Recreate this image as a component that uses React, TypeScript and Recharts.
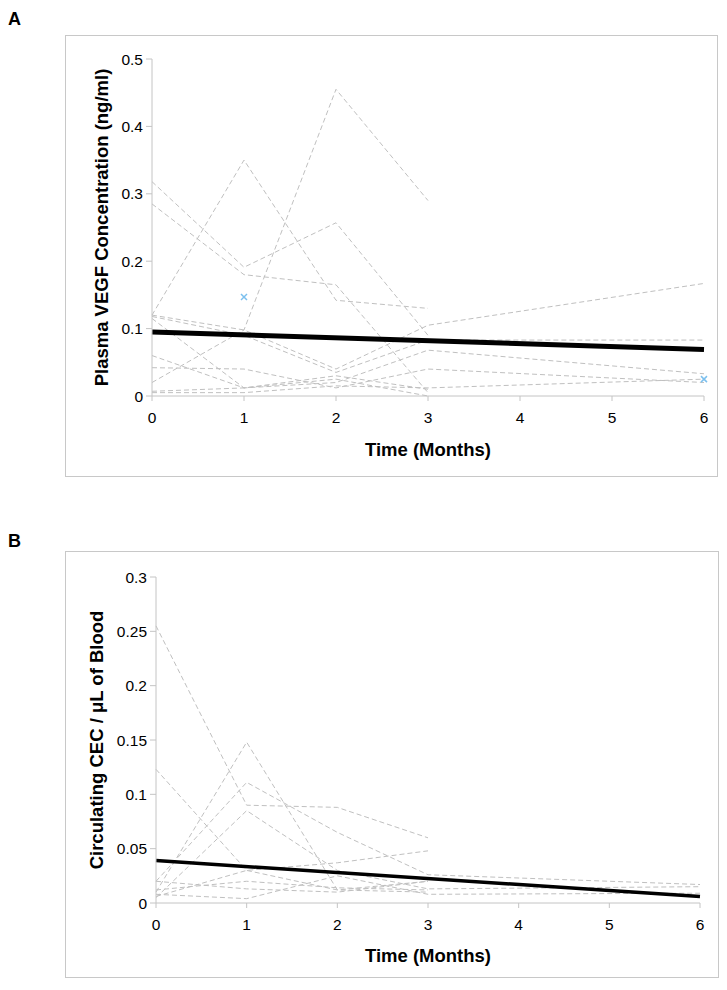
import React from 'react';
import { LineChart, Line, XAxis, YAxis, Label } from 'recharts';

// ---------- data ----------
const months = [0, 1, 2, 3, 6];
const monthTicks = [0, 1, 2, 3, 4, 5, 6];
const vegfTicks = [0, 0.1, 0.2, 0.3, 0.4, 0.5];
const cecTicks = [0, 0.05, 0.1, 0.15, 0.2, 0.25, 0.3];

// Panel A: plasma VEGF per patient (months 0,1,2,3,6)
const vegfP1 = [0.12, 0.35, 0.142, 0.13, null];
const vegfP2 = [0.02, 0.098, 0.455, 0.29, null];
const vegfP3 = [0.318, 0.191, 0.257, 0.09, null];
const vegfP4 = [0.285, 0.18, 0.165, 0.005, null];
const vegfP5 = [0.12, 0.098, 0.04, 0.105, 0.167];
const vegfP6 = [0.118, 0.09, 0.035, 0.083, 0.083];
const vegfP7 = [0.06, 0.012, 0.02, 0.068, 0.033];
const vegfP8 = [0.042, 0.04, 0.012, 0.04, 0.02];
const vegfP9 = [0.005, 0.005, 0.015, 0.012, 0.025];
const vegfP10 = [0.007, 0.012, 0.025, 0.0, null];
const vegfP11 = [0.115, 0.012, 0.03, 0.01, null];
const vegfMarked = [null, 0.147, null, null, 0.025];
const vegfTrend = [0.095, null, null, null, 0.069];

// Panel B: circulating CEC per patient
const cecP1 = [0.255, 0.09, 0.088, 0.06, null];
const cecP2 = [0.123, 0.03, 0.012, 0.02, null];
const cecP3 = [0.01, 0.148, 0.012, 0.01, null];
const cecP4 = [0.02, 0.111, 0.065, 0.026, 0.017];
const cecP5 = [0.005, 0.085, 0.03, 0.013, 0.015];
const cecP6 = [0.006, 0.03, 0.037, 0.048, null];
const cecP7 = [0.008, 0.004, 0.025, 0.008, 0.009];
const cecP8 = [0.012, 0.02, 0.014, 0.012, null];
const cecP9 = [0.02, 0.013, 0.01, 0.02, null];
const cecTrend = [0.039, null, null, null, 0.006];

const vegfPatients = [vegfP1, vegfP2, vegfP3, vegfP4, vegfP5, vegfP6, vegfP7, vegfP8, vegfP9, vegfP10, vegfP11];
const cecPatients = [cecP1, cecP2, cecP3, cecP4, cecP5, cecP6, cecP7, cecP8, cecP9];

function buildRows(patients: (number | null)[][], trend: (number | null)[], marked?: (number | null)[]) {
  return months.map((m, i) => {
    const row: any = { month: m, trend: trend[i] };
    patients.forEach((p, k) => {
      row['p' + k] = p[i];
    });
    if (marked) row.marked = marked[i];
    return row;
  });
}

const vegfRows = buildRows(vegfPatients, vegfTrend, vegfMarked);
const cecRows = buildRows(cecPatients, cecTrend);

// ---------- styles ----------
const FONT = '"Liberation Sans", Arial, Helvetica, sans-serif';
const AXIS = '#c4c4c4';
const DASH = '#c0c0c0';
const TICK_FS = 15.5;
const TITLE_FS = 18.5;

const CrossDot = (props: any) => {
  const { cx, cy, index, value } = props;
  if (value == null || cx == null || cy == null) return <g key={'m' + index} />;
  const s = 3;
  return (
    <g key={'m' + index}>
      <line x1={cx - s} y1={cy - s} x2={cx + s} y2={cy + s} stroke="#7cc0ee" strokeWidth={1.5} />
      <line x1={cx - s} y1={cy + s} x2={cx + s} y2={cy - s} stroke="#7cc0ee" strokeWidth={1.5} />
    </g>
  );
};

type PanelProps = {
  rows: any[];
  count: number;
  width: number;
  height: number;
  margin: { top: number; right: number; left: number; bottom: number };
  yWidth: number;
  xHeight: number;
  yMax: number;
  yTicks: number[];
  yTitle: string;
  yTitleX: number;
  xTitleDy: number;
  trendWidth: number;
  marked?: boolean;
};

function Panel(p: PanelProps) {
  const keys = Array.from({ length: p.count }, (_, k) => 'p' + k);
  return (
    <LineChart width={p.width} height={p.height} data={p.rows} margin={p.margin}>
      <XAxis
        dataKey="month"
        type="number"
        domain={[0, 6]}
        ticks={monthTicks}
        interval={0}
        height={p.xHeight}
        tickSize={5}
        tickMargin={11}
        axisLine={{ stroke: AXIS }}
        tickLine={{ stroke: AXIS }}
        tick={{ fill: '#000', fontSize: TICK_FS, fontFamily: FONT }}
      >
        <Label
          content={(lp: any) => {
            const vb = lp.viewBox;
            return (
              <text
                x={vb.x + vb.width / 2}
                y={vb.y + p.xTitleDy}
                textAnchor="middle"
                fontFamily={FONT}
                fontWeight="bold"
                fontSize={TITLE_FS}
                fill="#000"
              >
                Time (Months)
              </text>
            );
          }}
        />
      </XAxis>
      <XAxis xAxisId="top" orientation="top" type="number" domain={[0, 6]} height={0} tick={false} tickLine={false} axisLine={{ stroke: AXIS }} />
      <YAxis
        type="number"
        domain={[0, p.yMax]}
        ticks={p.yTicks}
        interval={0}
        width={p.yWidth}
        tickSize={6}
        tickMargin={3}
        axisLine={{ stroke: AXIS }}
        tickLine={{ stroke: AXIS }}
        tick={{ fill: '#000', fontSize: TICK_FS, fontFamily: FONT }}
      >
        <Label
          content={(lp: any) => {
            const vb = lp.viewBox;
            const cx = vb.x + p.yTitleX;
            const cy = vb.y + vb.height / 2;
            return (
              <text
                x={cx}
                y={cy}
                transform={`rotate(-90 ${cx} ${cy})`}
                textAnchor="middle"
                dominantBaseline="central"
                fontFamily={FONT}
                fontWeight="bold"
                fontSize={TITLE_FS}
                fill="#000"
              >
                {p.yTitle}
              </text>
            );
          }}
        />
      </YAxis>
      <YAxis yAxisId="right" orientation="right" type="number" domain={[0, p.yMax]} width={0} tick={false} tickLine={false} axisLine={{ stroke: AXIS }} />
      {keys.map((k) => (
        <Line
          key={k}
          dataKey={k}
          stroke={DASH}
          strokeWidth={1}
          strokeDasharray="5 3"
          dot={false}
          activeDot={false}
          isAnimationActive={false}
          type="linear"
        />
      ))}
      {p.marked && (
        <Line
          dataKey="marked"
          stroke="none"
          dot={CrossDot}
          activeDot={false}
          isAnimationActive={false}
        />
      )}
      <Line
        dataKey="trend"
        stroke="#000"
        strokeWidth={p.trendWidth}
        dot={false}
        activeDot={false}
        connectNulls
        isAnimationActive={false}
        type="linear"
      />
    </LineChart>
  );
}

export default function App() {
  const box = { position: 'absolute' as const, border: '1px solid #c8c8c8', boxSizing: 'border-box' as const };
  const letter = { position: 'absolute' as const, fontFamily: FONT, fontWeight: 'bold' as const, fontSize: 18, lineHeight: '18px' };
  return (
    <div style={{ position: 'absolute', left: 0, top: 0, width: 727, height: 990, background: '#fff' }}>
      <div style={{ ...letter, left: 8, top: 10 }}>A</div>
      <div style={{ ...letter, left: 8, top: 532 }}>B</div>
      <div style={{ ...box, left: 65, top: 35, width: 653, height: 442 }} />
      <div style={{ ...box, left: 65, top: 551, width: 654, height: 427 }} />
      <div style={{ position: 'absolute', left: 65, top: 35 }}>
        <Panel
          rows={vegfRows}
          count={vegfPatients.length}
          width={653}
          height={442}
          margin={{ top: 24, right: 14, left: 0, bottom: 0 }}
          yWidth={87}
          xHeight={81}
          yMax={0.5}
          yTicks={vegfTicks}
          yTitle="Plasma VEGF Concentration (ng/ml)"
          yTitleX={36}
          xTitleDy={60}
          trendWidth={5}
          marked
        />
      </div>
      <div style={{ position: 'absolute', left: 65, top: 551 }}>
        <Panel
          rows={cecRows}
          count={cecPatients.length}
          width={654}
          height={427}
          margin={{ top: 26, right: 19, left: 0, bottom: 0 }}
          yWidth={91}
          xHeight={75}
          yMax={0.3}
          yTicks={cecTicks}
          yTitle="Circulating CEC / μL of Blood"
          yTitleX={31}
          xTitleDy={59}
          trendWidth={3.5}
        />
      </div>
    </div>
  );
}
